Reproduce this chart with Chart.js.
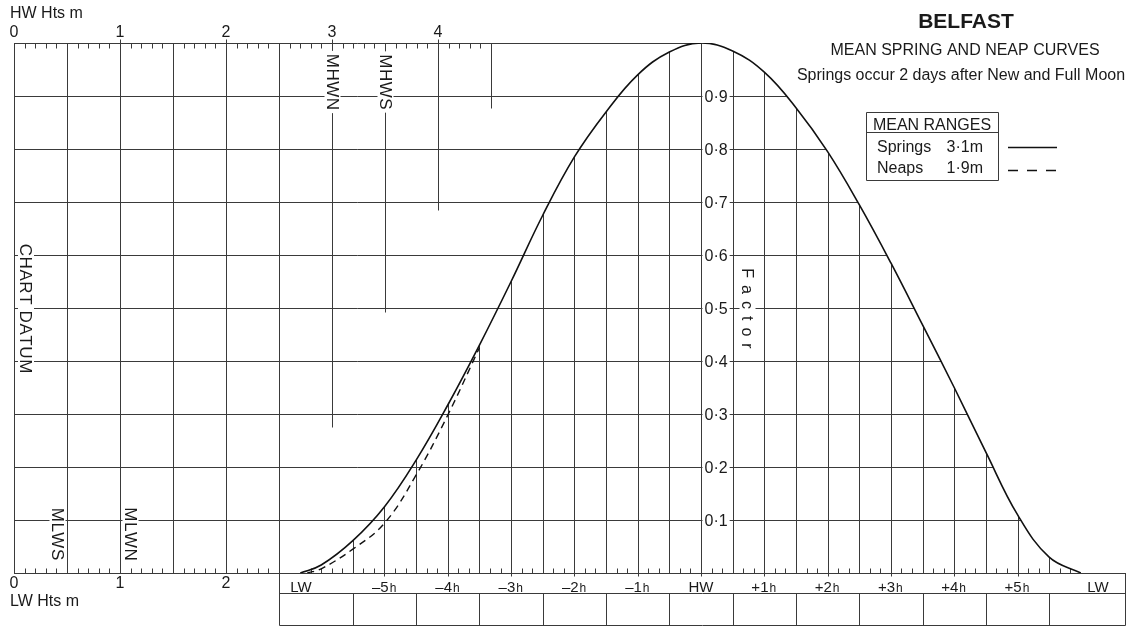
<!DOCTYPE html>
<html>
<head>
<meta charset="utf-8">
<title>Belfast - mean spring and neap curves</title>
<script src="https://cdn.jsdelivr.net/npm/chart.js@4.4.1/dist/chart.umd.min.js"></script>
<style>
  html, body { margin: 0; padding: 0; background: #fff; }
  #wrap { width: 1138px; height: 626px; }
</style>
</head>
<body>
<div id="wrap"><canvas id="tide" width="1138" height="626"></canvas></div>
<script>
// hours from HW and the tidal factor
const springHours  = [-6.33, -6.0, -5.5, -5.0, -4.5, -4.0, -3.5, -3.0, -2.5, -2.0, -1.5, -1.0, -0.5, 0,
                      0.5, 1.0, 1.5, 2.0, 2.5, 3.0, 3.5, 4.0, 4.5, 5.0, 5.5, 6.0];
const springFactor = [0, 0.015, 0.061, 0.125, 0.213, 0.317, 0.43, 0.55, 0.675, 0.785, 0.87, 0.94, 0.983, 1.0,
                      0.985, 0.945, 0.878, 0.795, 0.695, 0.585, 0.468, 0.35, 0.228, 0.11, 0.03, 0];
// neaps only part from springs on the rising side
const neapHours  = [-6.22, -6.0, -5.5, -5.0, -4.5, -4.0, -3.5];
const neapFactor = [0, 0.008, 0.045, 0.094, 0.185, 0.298, 0.425];

const factorValues = [0.1, 0.2, 0.3, 0.4, 0.5, 0.6, 0.7, 0.8, 0.9];
const factorLabels = ['0·1', '0·2', '0·3', '0·4', '0·5', '0·6', '0·7', '0·8', '0·9'];
const hourValues = [-5, -4, -3, -2, -1, 0, 1, 2, 3, 4, 5];
const hourLabels = ['–5', '–4', '–3', '–2', '–1', 'HW', '+1', '+2', '+3', '+4', '+5'];
const lwHours = [-6.32, 6.27];

const hwHeightLabels = ['0', '1', '2', '3', '4'];
const lwHeightLabels = ['0', '1', '2'];
const hwMarks = ['MHWN', 'MHWS'];
const hwMarkHeights = [3.0, 3.5];
const lwMarks = ['MLWS', 'MLWN'];
const lwMarkHeights = [0.5, 1.0];
// short height lines hanging from the HW scale and the factor where each stops
const hangHeights = [3.0, 3.5, 4.0, 4.5];
const hangFactor  = [0.275, 0.492, 0.685, 0.877];

const rangeNames  = ['Springs', 'Neaps'];
const rangeValues = ['3·1m', '1·9m'];

const FONT = '"Liberation Sans", Arial, Helvetica, sans-serif';
const INK = '#1a1a1a';
const GRID = '#3a3a3a';

function seg(ctx, x1, y1, x2, y2) {
    ctx.moveTo(x1, y1);
    ctx.lineTo(x2, y2);
}

// text turned a quarter turn clockwise, optionally on a white patch
function turnedText(ctx, text, x, y, mask, gap) {
    gap = gap || 0;
    ctx.save();
    ctx.translate(x, y);
    ctx.rotate(Math.PI / 2);
    const widths = Array.from(text).map(c => ctx.measureText(c).width);
    const total = widths.reduce((s, w) => s + w, 0) + gap * (widths.length - 1);
    if (mask) {
        ctx.fillStyle = '#fff';
        ctx.fillRect(-total / 2 - 3, -8, total + 6, 16);
    }
    ctx.fillStyle = INK;
    ctx.textAlign = 'left';
    ctx.textBaseline = 'middle';
    let pos = -total / 2;
    Array.from(text).forEach((c, i) => {
        ctx.fillText(c, pos, 1);
        pos += widths[i] + gap;
    });
    ctx.restore();
}

const tideFrame = {
    id: 'tideFrame',
    beforeDatasetsDraw(chart) {
        const { ctx, chartArea: a } = chart;
        const sx = chart.scales.x, sy = chart.scales.y, sh = chart.scales.hts;
        const X = t => Math.round(sx.getPixelForValue(t)) + 0.5;
        const Y = f => Math.round(sy.getPixelForValue(f)) + 0.5;
        const H = m => Math.round(sh.getPixelForValue(m)) + 0.5;
        const spring = chart.getDatasetMeta(0).dataset;
        spring.updateControlPoints(a, 'x');
        const top = Y(1), base = Y(0), hw = X(0);

        ctx.save();
        ctx.lineWidth = 1;
        ctx.strokeStyle = GRID;

        // under the springs curve: half hour lines and factor lines right of HW
        ctx.save();
        ctx.beginPath();
        spring.path(ctx);
        ctx.closePath();
        ctx.clip();
        ctx.beginPath();
        for (let k = -11; k <= 11; k++) seg(ctx, X(k / 2), base, X(k / 2), top);
        factorValues.forEach(f => seg(ctx, hw, Y(f), a.right, Y(f)));
        ctx.stroke();
        ctx.restore();

        ctx.beginPath();
        factorValues.forEach(f => seg(ctx, a.left, Y(f), hw, Y(f)));
        for (let m = 0; m <= 2.5; m += 0.5) seg(ctx, H(m), top, H(m), base);
        hangHeights.forEach((m, i) => seg(ctx, H(m), top, H(m), Y(hangFactor[i])));
        seg(ctx, a.left, top, hw, top);
        seg(ctx, a.left, base, a.right, base);

        // HW height scale ticks
        for (let i = 1; i <= 45; i++) {
            if (i % 5 !== 0) seg(ctx, H(i / 10), top, H(i / 10), top + 5);
            if (i % 10 === 0) seg(ctx, H(i / 10), top - 4, H(i / 10), top);
        }
        // LW height scale ticks
        for (let i = 1; i <= 24; i++) {
            if (i % 5 !== 0) seg(ctx, H(i / 10), base - 5, H(i / 10), base);
        }
        // ten minute ticks along the time scale
        for (let k = -37; k <= 35; k++) {
            if (k % 3 === 0 && Math.abs(k) <= 33) {
                if (k % 6 === 0) seg(ctx, X(k / 6), base, X(k / 6), base + 3);
                continue;
            }
            seg(ctx, X(k / 6), base - 5, X(k / 6), base);
        }

        // table under the time scale
        const row1 = base + 20, row2 = base + 52;
        const tl = H(2.5), tr = Math.round(a.right) - 0.5;
        seg(ctx, tl, base, tl, row2);
        seg(ctx, tr, base, tr, row2);
        seg(ctx, tl, row1, tr, row1);
        seg(ctx, tl, row2, tr, row2);
        for (let k = -11; k <= 11; k += 2) seg(ctx, X(k / 2), row1, X(k / 2), row2);
        ctx.stroke();

        // text
        ctx.fillStyle = INK;
        ctx.font = '16px ' + FONT;
        ctx.textBaseline = 'middle';
        ctx.textAlign = 'left';
        ctx.fillText('HW Hts m', 10, 14);
        ctx.fillText('LW Hts m', 10, 602);
        ctx.textAlign = 'center';
        hwHeightLabels.forEach((s, i) => ctx.fillText(s, sh.getPixelForValue(i), 33));
        lwHeightLabels.forEach((s, i) => ctx.fillText(s, sh.getPixelForValue(i), 584));

        // factor values on the HW line
        ctx.textAlign = 'left';
        factorValues.forEach((f, i) => {
            const w = ctx.measureText(factorLabels[i]).width;
            ctx.fillStyle = '#fff';
            ctx.fillRect(hw + 1, Y(f) - 8, w + 4, 16);
            ctx.fillStyle = INK;
            ctx.fillText(factorLabels[i], hw + 3, Y(f) + 1);
        });

        turnedText(ctx, 'Factor', hw + 46, Y(0.5), true, 7);
        ctx.font = '17px ' + FONT;
        turnedText(ctx, 'CHART DATUM', a.left + 12, Y(0.5), true, 0.6);
        hwMarks.forEach((s, i) => turnedText(ctx, s, H(hwMarkHeights[i]), 82, true, 0.5));
        turnedText(ctx, lwMarks[0], H(lwMarkHeights[0]) - 10, 534, true, 0.5);
        turnedText(ctx, lwMarks[1], H(lwMarkHeights[1]) + 10, 534, true, 0.5);

        // hour captions in the table
        ctx.font = '15px ' + FONT;
        ctx.textBaseline = 'alphabetic';
        const capY = base + 18;
        lwHours.forEach(t => {
            ctx.textAlign = 'center';
            ctx.fillText('LW', sx.getPixelForValue(t), capY);
        });
        hourValues.forEach((t, i) => {
            const s = hourLabels[i], cx = sx.getPixelForValue(t);
            ctx.font = '15px ' + FONT;
            if (s === 'HW') {
                ctx.textAlign = 'center';
                ctx.fillText(s, cx, capY);
                return;
            }
            const digit = s.slice(1);
            const dw = ctx.measureText(digit).width;
            ctx.textAlign = 'center';
            ctx.fillText(digit, cx, capY);
            ctx.textAlign = 'right';
            ctx.fillText(s[0], cx - dw / 2, capY);
            ctx.font = '12px ' + FONT;
            ctx.textAlign = 'left';
            ctx.fillText('h', cx + dw / 2 + 1, capY);
        });

        // title block
        ctx.textAlign = 'center';
        ctx.font = 'bold 21px ' + FONT;
        ctx.fillText('BELFAST', 966, 28);
        ctx.font = '16px ' + FONT;
        ctx.fillText('MEAN SPRING AND NEAP CURVES', 965, 55);
        ctx.fillText('Springs occur 2 days after New and Full Moon', 961, 80);

        // mean ranges box
        ctx.beginPath();
        ctx.rect(866.5, 112.5, 132, 68);
        seg(ctx, 866.5, 132.5, 998.5, 132.5);
        ctx.stroke();
        ctx.fillText('MEAN RANGES', 932, 130);
        ctx.textAlign = 'left';
        rangeNames.forEach((n, i) => ctx.fillText(n, 877, 152 + i * 21));
        ctx.textAlign = 'right';
        rangeValues.forEach((v, i) => ctx.fillText(v, 983, 152 + i * 21));
        ctx.strokeStyle = '#111';
        ctx.lineWidth = 1.5;
        ctx.beginPath();
        seg(ctx, 1008, 147.5, 1057, 147.5);
        ctx.stroke();
        ctx.setLineDash([10, 9]);
        ctx.beginPath();
        seg(ctx, 1008, 170.5, 1057, 170.5);
        ctx.stroke();
        ctx.restore();
    }
};

const pairs = (xs, ys) => xs.map((x, i) => ({ x: x, y: ys[i] }));

new Chart(document.getElementById('tide').getContext('2d'), {
    type: 'line',
    data: {
        datasets: [
            {
                label: 'Springs 3·1m',
                data: pairs(springHours, springFactor),
                borderColor: '#111',
                borderWidth: 1.6,
                pointRadius: 0,
                tension: 0.4,
                fill: false
            },
            {
                label: 'Neaps 1·9m',
                data: pairs(neapHours, neapFactor),
                borderColor: '#111',
                borderWidth: 1.4,
                borderDash: [7, 5],
                pointRadius: 0,
                tension: 0.4,
                fill: false
            }
        ]
    },
    options: {
        responsive: false,
        animation: false,
        devicePixelRatio: 1,
        events: [],
        layout: { padding: { left: 14, right: 12, top: 43, bottom: 53 } },
        plugins: { legend: { display: false }, tooltip: { enabled: false } },
        scales: {
            x: { type: 'linear', min: -10.853, max: 6.714, display: false },
            hts: { type: 'linear', axis: 'x', position: 'top', min: 0, max: 10.4906, display: false },
            y: { type: 'linear', min: 0, max: 1, display: false }
        }
    },
    plugins: [tideFrame]
});
</script>
</body>
</html>
